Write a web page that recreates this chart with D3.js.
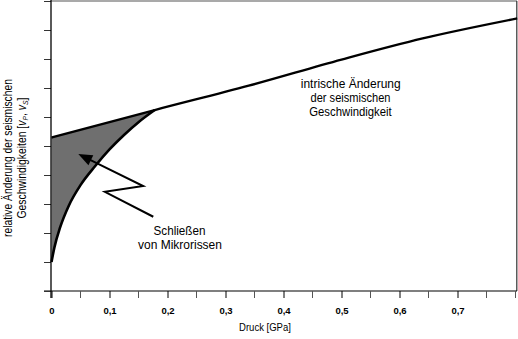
<!DOCTYPE html>
<html><head><meta charset="utf-8">
<script src="https://cdn.jsdelivr.net/npm/d3@7/dist/d3.min.js"></script>
<style>
html,body{margin:0;padding:0;background:#fff;}
svg{display:block;}
text{font-family:"Liberation Sans","Arimo",Arial,sans-serif;fill:#000;}
</style></head>
<body>
<script>
// ---- data ----
const xTickValues = [0, 0.1, 0.2, 0.3, 0.4, 0.5, 0.6, 0.7];
const xTickLabels = ["0", "0,1", "0,2", "0,3", "0,4", "0,5", "0,6", "0,7"];
const xMinorTicks = [0.05, 0.15, 0.25, 0.35, 0.45, 0.55, 0.65, 0.75, 0.8];
const yTickValues = [0, 1, 2, 3, 4, 5, 6, 7, 8, 9, 10];

// intrinsic change of seismic velocity (upper line)
const intrinsicX = [0, 0.178, 0.34, 0.5, 0.64, 0.803];
const intrinsicY = [5.29, 6.24, 7.08, 7.98, 8.71, 9.40];

// closing of micro cracks (lower curve)
const crackX = [0, 0.005, 0.015, 0.03, 0.05, 0.075, 0.1, 0.125, 0.15, 0.178];
const crackY = [1.0, 1.5, 2.2, 2.95, 3.65, 4.3, 4.88, 5.38, 5.82, 6.24];

// zig-zag arrow (tail -> tip)
const arrowX = [0.1755, 0.092, 0.158, 0.0462];
const arrowY = [2.56, 3.42, 3.62, 4.72];

const W = 518, H = 339;
const svg = d3.select("body").append("svg").attr("width", W).attr("height", H);

const x = d3.scaleLinear().domain([0, 0.8]).range([51.5, 515.5]);
const y = d3.scaleLinear().domain([0, 10]).range([291, 1]);

// horizontally squeeze a text to a target width around its anchor
function fit(sel, target, cx, cy) {
  const w = sel.node().getBBox().width;
  const k = target / w;
  sel.attr("transform", `translate(${cx},${cy}) scale(${k},1) translate(${-cx},${-cy})`);
}

// frame (top and right)
svg.append("line").attr("x1", 51).attr("x2", 517).attr("y1", 1).attr("y2", 1)
  .attr("stroke", "#555").attr("stroke-width", 1.2);
svg.append("line").attr("x1", 516.8).attr("x2", 516.8).attr("y1", 1).attr("y2", 291)
  .attr("stroke", "#333").attr("stroke-width", 1.2);

// fill area
const crackPts = crackX.map((d, i) => [d, crackY[i]]);
const intrPts = intrinsicX.map((d, i) => [d, intrinsicY[i]]);
const crackLine = d3.line().x(d => x(d[0])).y(d => y(d[1])).curve(d3.curveMonotoneX);
const intrLine = d3.line().x(d => x(d[0])).y(d => y(d[1])).curve(d3.curveMonotoneX);
svg.append("path")
  .attr("d", crackLine(crackPts) + "L" + x(intrinsicX[0]) + "," + y(intrinsicY[0]) + "Z")
  .attr("fill", "#6f6f6f").attr("stroke", "none");

// curves
svg.append("path").attr("d", crackLine(crackPts)).attr("fill", "none")
  .attr("stroke", "#000").attr("stroke-width", 2.6);
svg.append("path").attr("d", intrLine(intrPts)).attr("fill", "none")
  .attr("stroke", "#000").attr("stroke-width", 2.3);

// axes
const xAxis = d3.axisBottom(x).tickValues(xTickValues)
  .tickFormat((d, i) => xTickLabels[i]).tickSize(7).tickPadding(9);
const gx = svg.append("g").attr("transform", "translate(0,291)").call(xAxis);
gx.select(".domain").remove();
gx.selectAll("text").attr("font-size", 9.5).attr("font-weight", "bold")
  .attr("font-family", "Liberation Sans, Arial, sans-serif");
gx.append("line").attr("x1", 44).attr("x2", 517).attr("y1", 0).attr("y2", 0)
  .attr("stroke", "#000").attr("stroke-width", 1.2);
gx.selectAll(".minor").data(xMinorTicks).enter().append("line")
  .attr("x1", d => x(d)).attr("x2", d => x(d)).attr("y1", 0).attr("y2", 7)
  .attr("stroke", "#555").attr("stroke-width", 1);
gx.selectAll(".tick line").attr("stroke", "#000");

const yAxis = d3.axisLeft(y).tickValues(yTickValues).tickFormat("").tickSize(7);
const gy = svg.append("g").attr("transform", "translate(51,0)").call(yAxis);
gy.select(".domain").remove();
gy.selectAll(".tick line").attr("stroke", "#333");
gy.append("line").attr("x1", 0).attr("x2", 0).attr("y1", 0).attr("y2", 298)
  .attr("stroke", "#000").attr("stroke-width", 1.3);

// axis titles
const xt = svg.append("text").attr("x", 265).attr("y", 331).attr("text-anchor", "middle")
  .attr("font-size", 10.5).text("Druck [GPa]");
fit(xt, 52, 265, 331);

const yl = svg.append("g").attr("transform", "translate(0,158) rotate(-90)");
const t1 = yl.append("text").attr("x", 0).attr("y", 12).attr("text-anchor", "middle")
  .attr("font-size", 12).text("relative Änderung der seismischen");
fit(t1, 158, 0, 12);
const t2 = yl.append("text").attr("x", 0).attr("y", 26).attr("text-anchor", "middle")
  .attr("font-size", 12);
t2.append("tspan").text("Geschwindigkeiten [");
t2.append("tspan").attr("font-style", "italic").text("v");
t2.append("tspan").attr("font-style", "italic").attr("font-size", 8).attr("dy", 2).text("P");
t2.append("tspan").attr("dy", -2).text(", ");
t2.append("tspan").attr("font-style", "italic").text("v");
t2.append("tspan").attr("font-style", "italic").attr("font-size", 8).attr("dy", 2).text("S");
t2.append("tspan").attr("dy", -2).text("]");
fit(t2, 121, 0, 26);

// arrow
const arrowPts = arrowX.map((d, i) => [x(d), y(arrowY[i])]);
const n = arrowPts.length;
const tip = arrowPts[n - 1], prev = arrowPts[n - 2];
const dx = tip[0] - prev[0], dy = tip[1] - prev[1];
const len = Math.hypot(dx, dy), ux = dx / len, uy = dy / len;
const headL = 14, headW = 5.5;
const base = [tip[0] - ux * headL, tip[1] - uy * headL];
const shaft = arrowPts.slice(0, n - 1).concat([[tip[0] - ux * (headL - 2), tip[1] - uy * (headL - 2)]]);
svg.append("path").attr("d", d3.line()(shaft)).attr("fill", "none")
  .attr("stroke", "#000").attr("stroke-width", 2).attr("stroke-linejoin", "miter");
svg.append("path").attr("d", d3.line()([
  tip,
  [base[0] - uy * headW, base[1] + ux * headW],
  [base[0] + uy * headW, base[1] - ux * headW]
]) + "Z").attr("fill", "#000");

// annotations
function label(s, cx, yb, width, fs) {
  const t = svg.append("text").attr("x", cx).attr("y", yb).attr("text-anchor", "middle")
    .attr("font-size", fs).text(s);
  fit(t, width, cx, yb);
}
label("Schließen", 179.5, 235.5, 52, 12);
label("von Mikrorissen", 180, 249.5, 84, 12);
label("intrische Änderung", 350.7, 88.5, 100, 12.5);
label("der seismischen", 350.5, 102.5, 80, 12.5);
label("Geschwindigkeit", 350.5, 116.5, 83, 12.5);
</script>
</body></html>
